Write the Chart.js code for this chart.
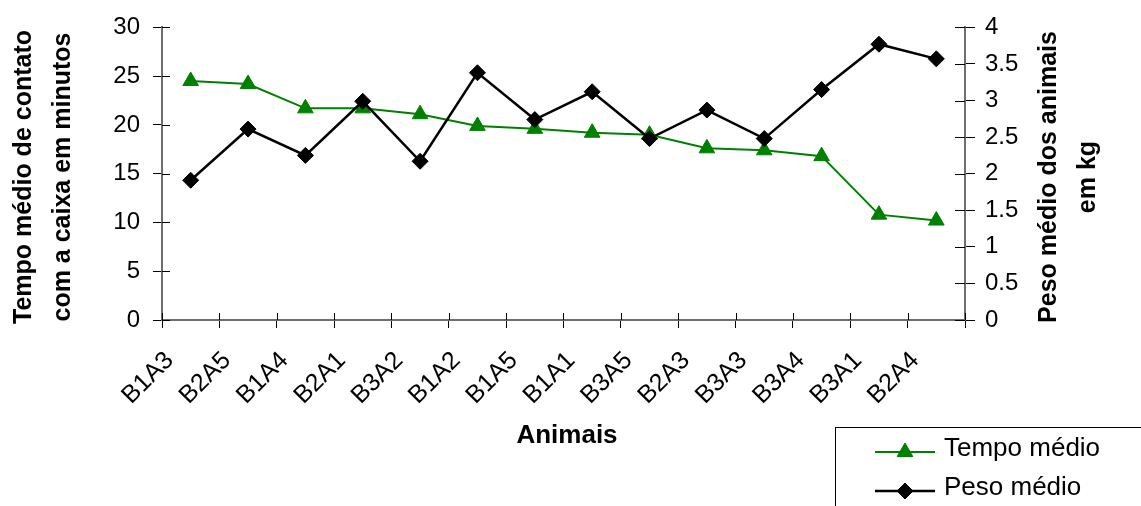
<!DOCTYPE html>
<html>
<head>
<meta charset="utf-8">
<script src="https://cdn.jsdelivr.net/npm/chart.js@4/dist/chart.umd.min.js"></script>
<style>
  html, body { margin: 0; padding: 0; background: #fff; }
  #wrap { width: 1141px; height: 506px; position: relative; }
  canvas { display: block; }
</style>
</head>
<body>
<div id="wrap"><canvas id="grafico" width="1141" height="506"></canvas></div>
<script>
// Animais avaliados (eixo X)
const animais = ['B1A3', 'B2A5', 'B1A4', 'B2A1', 'B3A2', 'B1A2', 'B1A5',
                 'B1A1', 'B3A5', 'B2A3', 'B3A3', 'B3A4', 'B3A1', 'B2A4'];

// Tempo médio de contato com a caixa (minutos) – eixo esquerdo
const tempoMedio = [24.5, 24.2, 21.7, 21.7, 21.1, 19.9, 19.6,
                    19.2, 19.0, 17.6, 17.4, 16.8, 10.8, 10.2];

// Peso médio dos animais (kg) – eixo direito
const pesoMedio = [1.91, 2.61, 2.25, 2.99, 2.17, 3.38, 2.74,
                   3.12, 2.48, 2.87, 2.48, 3.15, 3.77, 3.57];

// Marcas dos eixos
const ticksTempo = [0, 5, 10, 15, 20, 25, 30];
const ticksPeso = [0, 0.5, 1, 1.5, 2, 2.5, 3, 3.5, 4];

// Títulos
const tituloEsquerdo = ['Tempo médio de contato', 'com a caixa em minutos'];
const tituloDireito = ['Peso médio dos animais', 'em kg'];
const tituloX = 'Animais';
const nomeTempo = 'Tempo médio';
const nomePeso = 'Peso médio';

const FONTE = "'Liberation Sans', Arial, Helvetica, sans-serif";
const VERDE = 'rgb(0,128,0)';
const EIXO = 'rgb(110,110,110)';

// Marcas de divisão que cruzam a linha do eixo (parte interna)
const marcasInternas = {
  id: 'marcasInternas',
  beforeDatasetsDraw(chart) {
    const ctx = chart.ctx;
    const a = chart.chartArea;
    ctx.save();
    ctx.strokeStyle = '#000';
    ctx.lineWidth = 1;
    ctx.beginPath();
    const sy = chart.scales.y;
    ticksTempo.forEach(v => {
      const p = Math.round(sy.getPixelForValue(v)) + 0.5;
      ctx.moveTo(a.left, p); ctx.lineTo(a.left + 8, p);
    });
    const sy1 = chart.scales.y1;
    ticksPeso.forEach(v => {
      const p = Math.round(sy1.getPixelForValue(v)) + 0.5;
      ctx.moveTo(a.right - 10, p); ctx.lineTo(a.right, p);
    });
    const sx = chart.scales.x;
    const passo = sx.getPixelForValue(1) - sx.getPixelForValue(0);
    for (let i = 0; i <= animais.length; i++) {
      const p = Math.round(sx.getPixelForValue(i) - passo / 2) + 0.5;
      ctx.moveTo(p, a.bottom - 7); ctx.lineTo(p, a.bottom);
    }
    ctx.stroke();
    ctx.restore();
  }
};

// Títulos dos eixos
const titulosEixos = {
  id: 'titulosEixos',
  afterDraw(chart) {
    const ctx = chart.ctx;
    ctx.save();
    ctx.fillStyle = '#000';
    ctx.font = 'bold 25px ' + FONTE;
    ctx.textAlign = 'center';
    ctx.textBaseline = 'middle';
    const centroY = 177;
    const linhaV = (txt, x) => {
      ctx.save();
      ctx.translate(x, centroY);
      ctx.rotate(-Math.PI / 2);
      ctx.fillText(txt, 0, 0);
      ctx.restore();
    };
    linhaV(tituloEsquerdo[0], 24);
    linhaV(tituloEsquerdo[1], 63);
    linhaV(tituloDireito[0], 1049);
    linhaV(tituloDireito[1], 1088);
    ctx.font = 'bold 26px ' + FONTE;
    ctx.fillText(tituloX, 567, 436);
    ctx.restore();
  }
};

// Legenda em caixa no canto inferior direito
const legendaCaixa = {
  id: 'legendaCaixa',
  afterDraw(chart) {
    const ctx = chart.ctx;
    ctx.save();
    ctx.fillStyle = '#fff';
    ctx.fillRect(835, 427, 320, 100);
    ctx.strokeStyle = '#000';
    ctx.lineWidth = 1;
    ctx.strokeRect(835.5, 427.5, 320, 100);
    const linhas = [{ ds: chart.data.datasets[0], y: 452 }, { ds: chart.data.datasets[1], y: 491 }];
    linhas.forEach(({ ds, y }) => {
      ctx.strokeStyle = ds.borderColor;
      ctx.lineWidth = ds.borderWidth;
      ctx.beginPath();
      ctx.moveTo(875, y); ctx.lineTo(935, y);
      ctx.stroke();
      ctx.fillStyle = ds.pointBackgroundColor;
      ctx.strokeStyle = ds.pointBorderColor;
      ctx.lineWidth = 1;
      Chart.helpers.drawPoint(ctx, {
        pointStyle: ds.pointStyle, radius: ds.pointRadius, borderWidth: 1
      }, 905, y);
      ctx.fillStyle = '#000';
      ctx.font = '26px ' + FONTE;
      ctx.textAlign = 'left';
      ctx.textBaseline = 'middle';
      ctx.fillText(ds.label, 944, y - 3);
    });
    ctx.restore();
  }
};

const fonteTicks = { family: FONTE, size: 24 };

new Chart(document.getElementById('grafico'), {
  type: 'line',
  data: {
    labels: animais,
    datasets: [
      {
        label: nomeTempo,
        data: tempoMedio,
        yAxisID: 'y',
        borderColor: VERDE,
        backgroundColor: VERDE,
        borderWidth: 2,
        pointStyle: 'triangle',
        pointRadius: 9,
        pointBackgroundColor: VERDE,
        pointBorderColor: VERDE,
        pointBorderWidth: 1,
        tension: 0,
        order: 1
      },
      {
        label: nomePeso,
        data: pesoMedio,
        yAxisID: 'y1',
        borderColor: '#000',
        backgroundColor: '#000',
        borderWidth: 2.5,
        pointStyle: 'rectRot',
        pointRadius: 8,
        pointBackgroundColor: '#000',
        pointBorderColor: '#000',
        pointBorderWidth: 1,
        tension: 0,
        order: 0
      }
    ]
  },
  options: {
    responsive: false,
    animation: false,
    devicePixelRatio: 1,
    layout: { padding: { top: 24, left: 0, right: 0, bottom: 0 } },
    plugins: {
      legend: { display: false },
      tooltip: { enabled: false },
      title: { display: false }
    },
    scales: {
      x: {
        type: 'category',
        offset: true,
        grid: { offset: true, drawOnChartArea: false, color: '#000', tickLength: 8, lineWidth: 1 },
        border: { color: EIXO, width: 2 },
        ticks: {
          autoSkip: false, minRotation: 45, maxRotation: 45,
          font: { family: FONTE, size: 25 }, color: '#000', padding: 18, labelOffset: -21
        },
        afterFit(s) { s.height = 186; }
      },
      y: {
        position: 'left',
        min: 0, max: 30,
        afterBuildTicks(s) { s.ticks = ticksTempo.map(v => ({ value: v })); },
        grid: { drawOnChartArea: false, color: '#000', tickLength: 9, lineWidth: 1 },
        border: { color: EIXO, width: 2 },
        ticks: { font: fonteTicks, color: '#000', padding: 13, callback: v => String(v) },
        afterFit(s) { s.width = 162; }
      },
      y1: {
        position: 'right',
        min: 0, max: 4,
        afterBuildTicks(s) { s.ticks = ticksPeso.map(v => ({ value: v })); },
        grid: { drawOnChartArea: false, color: '#000', tickLength: 10, lineWidth: 1 },
        border: { color: EIXO, width: 2 },
        ticks: { font: fonteTicks, color: '#000', padding: 10, callback: v => String(v) },
        afterFit(s) { s.width = 176; }
      }
    }
  },
  plugins: [marcasInternas, titulosEixos, legendaCaixa]
});
</script>
</body>
</html>
